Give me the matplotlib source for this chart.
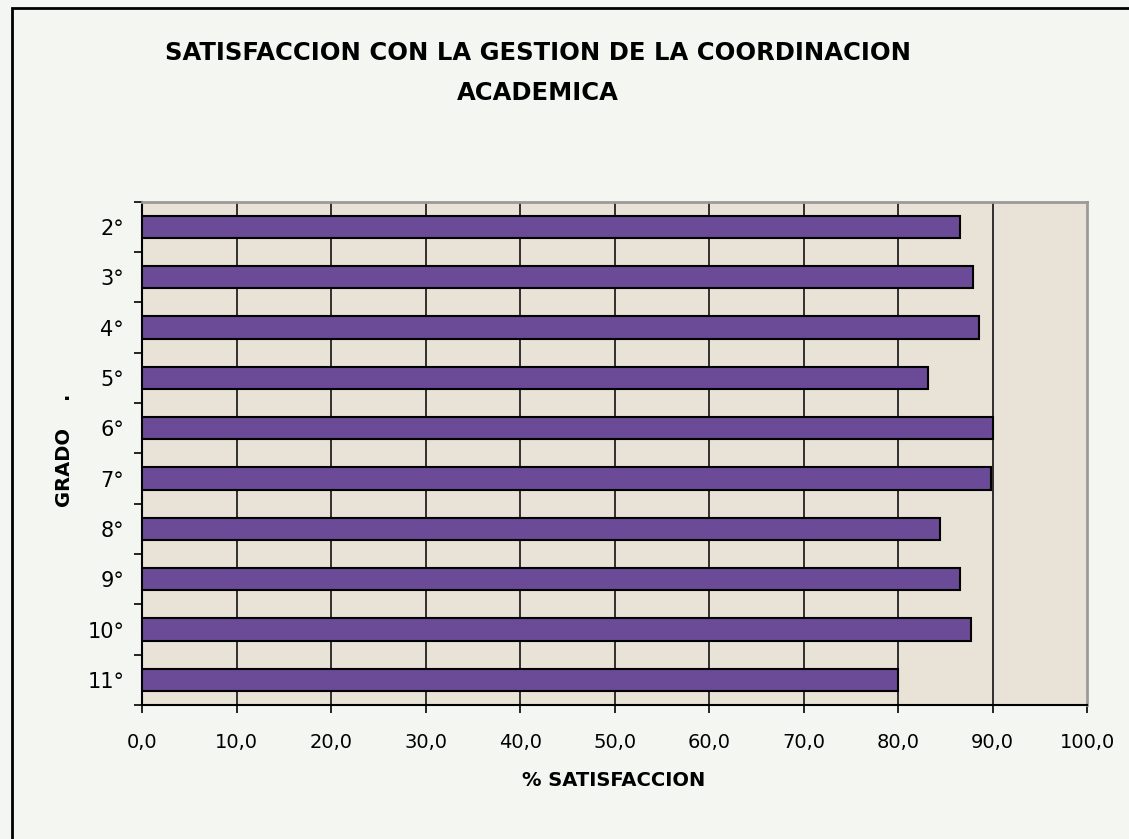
import numpy as np
import matplotlib.pyplot as plt
from matplotlib.patches import Rectangle

# --- data ---
grados = ["2°", "3°", "4°", "5°", "6°", "7°", "8°", "9°", "10°", "11°"]
satisfaccion = [86.6, 87.9, 88.6, 83.2, 90.0, 89.8, 84.4, 86.6, 87.7, 80.0]
x_ticks = [0, 10, 20, 30, 40, 50, 60, 70, 80, 90, 100]

plt.rcParams['font.family'] = ['DejaVu Sans']

W, H = 1129, 839
fig = plt.figure(figsize=(W / 100, H / 100), dpi=100)
fig.patch.set_facecolor("#F4F6F1")

# outer frame (runs off the right and bottom edge)
fig.patches.append(Rectangle((12 / W, -0.05), 1.2, 1 - 8 / H + 0.05,
                             transform=fig.transFigure, fill=False,
                             edgecolor="black", lw=2, zorder=0))

left, right, top, bottom = 142.3, 1087, 201.7, 705
ax = fig.add_axes([left / W, 1 - bottom / H, (right - left) / W, (bottom - top) / H])
ax.set_facecolor("#E9E2D6")

y = np.arange(len(grados))
ax.barh(y, satisfaccion, height=0.44, color="#6B4A97", edgecolor="black",
        linewidth=1.5, zorder=3)

ax.set_xlim(0, 100)
ax.set_ylim(len(grados) - 0.5, -0.5)

ax.set_xticks(x_ticks)
ax.set_xticklabels([f"{v:.1f}".replace(".", ",") for v in x_ticks], fontsize=14)
for v in x_ticks[1:-1]:
    ax.axvline(v, color="black", lw=1.1, zorder=2)

ax.set_yticks(y)
ax.set_yticklabels(grados, fontsize=15)
ax.set_yticks(np.arange(len(grados) + 1) - 0.5, minor=True)
ax.tick_params(axis="y", which="major", length=0, pad=13)
ax.tick_params(axis="y", which="minor", length=6, width=1.2, direction="out")
ax.tick_params(axis="x", length=6, width=1.2, direction="out", pad=14)

for side in ["left", "bottom"]:
    ax.spines[side].set_color("black")
    ax.spines[side].set_linewidth(1.5)
for side in ["top", "right"]:
    ax.spines[side].set_color("#9A9A9A")
    ax.spines[side].set_linewidth(2)

fig.text(538 / W, 1 - 53 / H, "SATISFACCION CON LA GESTION DE LA COORDINACION",
         ha="center", va="center", fontsize=17.5, fontweight="bold")
fig.text(538 / W, 1 - 93 / H, "ACADEMICA",
         ha="center", va="center", fontsize=17.5, fontweight="bold")
fig.text(614 / W, 1 - 780 / H, "% SATISFACCION",
         ha="center", va="center", fontsize=14, fontweight="bold")
fig.text(64 / W, 1 - 450 / H, "GRADO    .", rotation=90,
         ha="center", va="center", fontsize=14, fontweight="bold")

fig.savefig("out.png", dpi=100, facecolor=fig.get_facecolor())
